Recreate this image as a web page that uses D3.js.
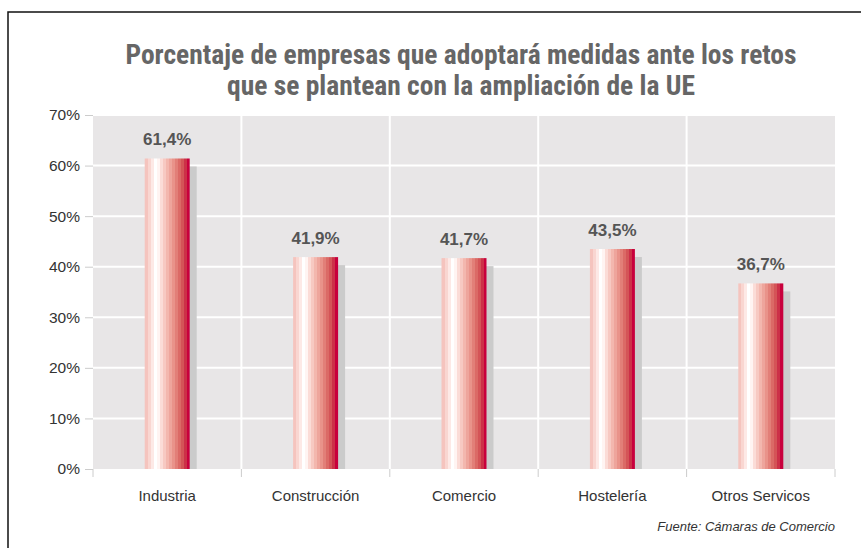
<!DOCTYPE html>
<html><head><meta charset="utf-8">
<script src="https://cdn.jsdelivr.net/npm/d3@7"></script>
<style>body{margin:0;background:#fff}</style>
</head><body>
<svg id="c" width="861" height="548"></svg>
<script>
const categories = ["Industria","Construcción","Comercio","Hostelería","Otros Servicos"];
const values = [61.4, 41.9, 41.7, 43.5, 36.7];
const valueLabels = ["61,4%","41,9%","41,7%","43,5%","36,7%"];
const yTicks = [0,10,20,30,40,50,60,70];
const titleLines = ["Porcentaje de empresas que adoptará medidas ante los retos","que se plantean con la ampliación de la UE"];
const source = "Fuente: Cámaras de Comercio";

const svg = d3.select("#c");
const L=93,R=835,T=115,B=469;
const x = d3.scaleBand().domain(categories).range([L,R]);
const y = d3.scaleLinear().domain([0,70]).range([B,T]);

// frame
svg.append("rect").attr("x",8).attr("y",12).attr("width",870).attr("height",560)
  .attr("fill","none").attr("stroke","#111").attr("stroke-width",1.5);

// title
const title = svg.append("text").attr("x",461).attr("text-anchor","middle")
  .attr("font-family","'Liberation Sans Narrow','Roboto Condensed','Liberation Sans',sans-serif")
  .attr("font-weight","bold").attr("font-size",27.5).attr("fill","#666");
titleLines.forEach((t,i)=>title.append("tspan").attr("x",461).attr("y",64+i*31).text(t));

// plot bg
svg.append("rect").attr("x",L).attr("y",T).attr("width",R-L).attr("height",B-T).attr("fill","#e8e6e7");
// gridlines
svg.append("g").selectAll("line").data(yTicks.slice(1)).join("line")
  .attr("x1",L).attr("x2",R).attr("y1",d=>y(d)).attr("y2",d=>y(d))
  .attr("stroke","#fff").attr("stroke-width",2);
// vertical separators
svg.append("g").selectAll("line").data(categories.slice(1)).join("line")
  .attr("x1",d=>x(d)).attr("x2",d=>x(d)).attr("y1",T).attr("y2",B)
  .attr("stroke","#fff").attr("stroke-width",2);

// gradient
const stops = ["#f5c4be","#f9d6d1","#fde9e6","#ffffff","#fff4f2","#fbdcd7","#f7c9c2","#f3b7ae","#eea59c","#e9938a","#e27f78","#db6a66","#d45457","#cc3148","#c8003c"];
const defs = svg.append("defs");
const g = defs.append("linearGradient").attr("id","bg").attr("x1","0").attr("x2","1").attr("y1","0").attr("y2","0");
stops.forEach((c,i)=>{
  g.append("stop").attr("offset",i/stops.length).attr("stop-color",c);
  g.append("stop").attr("offset",(i+1)/stops.length).attr("stop-color",c);
});

const bw = 45;
const bars = svg.append("g").selectAll("g").data(categories).join("g");
// shadow
bars.append("rect").attr("x",(d)=>x(d)+x.bandwidth()/2-bw/2+7)
  .attr("y",(d,i)=>y(values[i])+8).attr("width",bw)
  .attr("height",(d,i)=>B-y(values[i])-8).attr("fill","#cbcbcb");
bars.append("rect").attr("x",(d)=>x(d)+x.bandwidth()/2-bw/2)
  .attr("y",(d,i)=>y(values[i])).attr("width",bw)
  .attr("height",(d,i)=>B-y(values[i])).attr("fill","url(#bg)");
bars.append("text").attr("x",d=>x(d)+x.bandwidth()/2).attr("y",(d,i)=>y(values[i])-13)
  .attr("text-anchor","middle").attr("font-family","'Liberation Sans',Arial,sans-serif")
  .attr("font-weight","bold").attr("font-size",17).attr("fill","#555")
  .text((d,i)=>valueLabels[i]);

// y axis
const ya = svg.append("g").attr("transform",`translate(${L},0)`)
  .call(d3.axisLeft(y).tickValues(yTicks).tickFormat(d=>d+"%").tickSize(8).tickPadding(5));
ya.select(".domain").remove();
ya.selectAll("line").attr("stroke","#ccc");
ya.selectAll("text").attr("font-family","'Liberation Sans',Arial,sans-serif").attr("font-size",15.5).attr("fill","#333");

// x axis ticks (boundaries)
svg.append("g").selectAll("line").data(categories.concat([null])).join("line")
  .attr("x1",(d,i)=>i<categories.length?x(d):R).attr("x2",(d,i)=>i<categories.length?x(d):R)
  .attr("y1",B).attr("y2",B+8).attr("stroke","#ccc");
svg.append("g").selectAll("text").data(categories).join("text")
  .attr("x",d=>x(d)+x.bandwidth()/2).attr("y",501).attr("text-anchor","middle")
  .attr("font-family","'Liberation Sans',Arial,sans-serif").attr("font-size",15).attr("fill","#333")
  .text(d=>d);

svg.append("text").attr("x",835).attr("y",531).attr("text-anchor","end")
  .attr("font-family","'Liberation Sans',Arial,sans-serif").attr("font-style","italic")
  .attr("font-size",13).attr("fill","#333").text(source);
</script>
</body></html>
